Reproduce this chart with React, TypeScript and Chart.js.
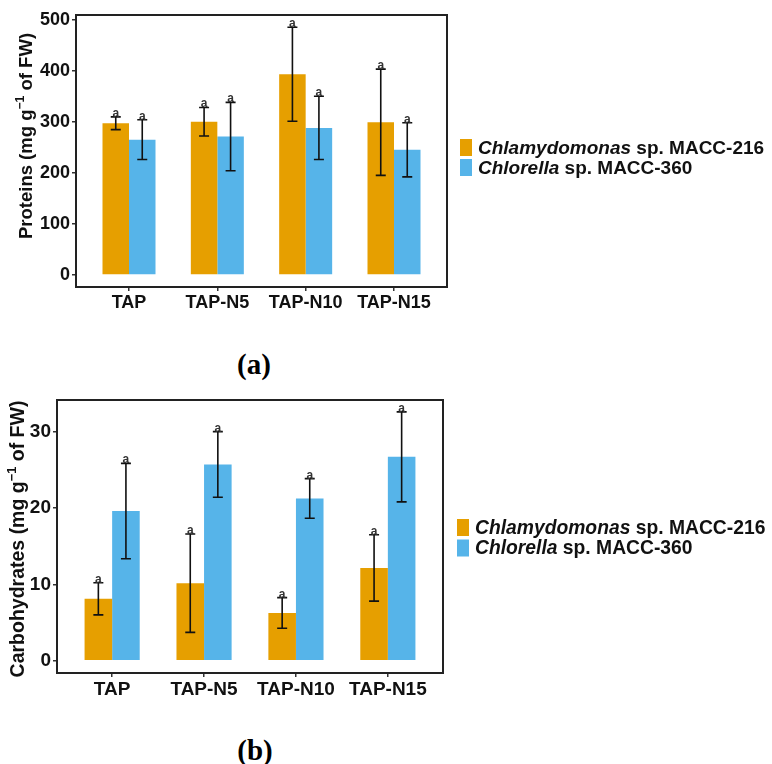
import React, { useEffect, useRef } from "react";
import { Chart, registerables } from "chart.js";

Chart.register(...registerables);

// ---- shared categories / series ----
const categories = ["TAP", "TAP-N5", "TAP-N10", "TAP-N15"];
const seriesNames = ["Chlamydomonas sp. MACC-216", "Chlorella sp. MACC-360"];
const seriesColors = ["#E69F00", "#56B4E9"];

// ---- proteins (mg g-1 of FW) ----
const proteinChlamy = [297, 300, 393, 299];
const proteinChlamySd = [12.5, 28, 92, 104];
const proteinChlorella = [265, 271, 288, 245];
const proteinChlorellaSd = [39, 67, 62, 53];
const proteinLetters = [
  ["a", "a", "a", "a"],
  ["a", "a", "a", "a"],
];
const proteinTicks = [0, 100, 200, 300, 400, 500];

// ---- carbohydrates (mg g-1 of FW) ----
const carbChlamy = [8.1, 10.15, 6.25, 12.15];
const carbChlamySd = [2.1, 6.45, 2.0, 4.35];
const carbChlorella = [19.6, 25.7, 21.25, 26.7];
const carbChlorellaSd = [6.25, 4.3, 2.6, 5.9];
const carbLetters = [
  ["a", "a", "a", "a"],
  ["a", "a", "a", "a"],
];
const carbTicks = [0, 10, 20, 30];

const SANS = '"Liberation Sans", Arial, sans-serif';
const INK = "#111111";

type PanelSpec = {
  width: number;
  height: number;
  plotLeft: number;
  plotTop: number;
  plotRight: number;
  plotBottom: number;
  yMin: number;
  yMax: number;
  yTicks: number[];
  values: number[][];
  errors: number[][];
  letters: string[][];
  titleMain: string;
  titleSup: string;
  titleTail: string;
  titleX: number;
  titleY: number;
  titleSize: number;
  tickSize: number;
  legendX: number;
  legendY: number;
  legendStep: number;
  legendSize: number;
};

function drawRotatedTitle(ctx: CanvasRenderingContext2D, s: PanelSpec) {
  const fMain = `bold ${s.titleSize}px ${SANS}`;
  const fSup = `bold ${s.titleSize * 0.66}px ${SANS}`;
  ctx.save();
  ctx.translate(s.titleX, s.titleY);
  ctx.rotate(-Math.PI / 2);
  ctx.fillStyle = INK;
  ctx.textBaseline = "alphabetic";
  ctx.textAlign = "left";
  ctx.font = fMain;
  const w1 = ctx.measureText(s.titleMain).width;
  const w3 = ctx.measureText(s.titleTail).width;
  ctx.font = fSup;
  const w2 = ctx.measureText(s.titleSup).width;
  let x = -(w1 + w2 + w3) / 2;
  ctx.font = fMain;
  ctx.fillText(s.titleMain, x, 0);
  x += w1;
  ctx.font = fSup;
  ctx.fillText(s.titleSup, x, -s.titleSize * 0.42);
  x += w2;
  ctx.font = fMain;
  ctx.fillText(s.titleTail, x, 0);
  ctx.restore();
}

function drawLegend(ctx: CanvasRenderingContext2D, s: PanelSpec) {
  ctx.save();
  ctx.textBaseline = "alphabetic";
  ctx.textAlign = "left";
  seriesNames.forEach((name, i) => {
    const top = s.legendY + i * s.legendStep;
    ctx.fillStyle = seriesColors[i];
    ctx.fillRect(s.legendX, top, 12, 17);
    const words = name.split(" ");
    const genus = words[0];
    const rest = " " + words.slice(1).join(" ");
    const base = top + 14.5;
    let x = s.legendX + 18;
    ctx.fillStyle = INK;
    ctx.font = `italic bold ${s.legendSize}px ${SANS}`;
    ctx.fillText(genus, x, base);
    x += ctx.measureText(genus).width;
    ctx.font = `bold ${s.legendSize}px ${SANS}`;
    ctx.fillText(rest, x, base);
  });
  ctx.restore();
}

function PanelChart({ spec, top }: { spec: PanelSpec; top: number }) {
  const ref = useRef<HTMLCanvasElement | null>(null);

  useEffect(() => {
    const canvas = ref.current;
    if (!canvas) return;
    const s = spec;

    const decorations = {
      id: "panelDecorations",
      afterDatasetsDraw(chart: any) {
        const ctx: CanvasRenderingContext2D = chart.ctx;
        const yScale = chart.scales.y;
        ctx.save();
        chart.data.datasets.forEach((_: any, di: number) => {
          const meta = chart.getDatasetMeta(di);
          meta.data.forEach((bar: any, i: number) => {
            const v = s.values[di][i];
            const e = s.errors[di][i];
            const x = bar.x;
            const yHi = yScale.getPixelForValue(v + e);
            const yLo = yScale.getPixelForValue(v - e);
            ctx.strokeStyle = INK;
            ctx.lineWidth = 1.6;
            ctx.beginPath();
            ctx.moveTo(x, yHi);
            ctx.lineTo(x, yLo);
            ctx.moveTo(x - 5, yHi);
            ctx.lineTo(x + 5, yHi);
            ctx.moveTo(x - 5, yLo);
            ctx.lineTo(x + 5, yLo);
            ctx.stroke();
            ctx.fillStyle = "#333333";
            ctx.font = `bold 12px ${SANS}`;
            ctx.textAlign = "center";
            ctx.textBaseline = "alphabetic";
            ctx.fillText(s.letters[di][i], x, yHi);
          });
        });
        ctx.restore();
      },
      afterDraw(chart: any) {
        const ctx: CanvasRenderingContext2D = chart.ctx;
        const a = chart.chartArea;
        ctx.save();
        ctx.strokeStyle = "#222222";
        ctx.lineWidth = 2;
        ctx.strokeRect(a.left, a.top, a.right - a.left, a.bottom - a.top);
        ctx.restore();
        drawRotatedTitle(ctx, s);
        drawLegend(ctx, s);
      },
    };

    const chart = new Chart(canvas, {
      type: "bar",
      data: {
        datasets: seriesNames.map((name, di) => ({
          label: name,
          data: categories.map((_, i) => ({ x: i + 1, y: s.values[di][i] })),
          backgroundColor: seriesColors[di],
          borderWidth: 0,
          categoryPercentage: 0.6,
          barPercentage: 1,
        })),
      },
      options: {
        animation: false,
        responsive: false,
        maintainAspectRatio: false,
        layout: {
          padding: {
            left: 0,
            top: s.plotTop,
            right: s.width - s.plotRight,
            bottom: 0,
          },
        },
        plugins: {
          legend: { display: false },
          tooltip: { enabled: false },
        },
        scales: {
          x: {
            type: "linear",
            offset: false,
            min: 0.4,
            max: categories.length + 0.6,
            afterBuildTicks: (scale: any) => {
              scale.ticks = categories.map((_, i) => ({ value: i + 1 }));
            },
            afterFit: (scale: any) => {
              scale.height = s.height - s.plotBottom;
            },
            ticks: {
              autoSkip: false,
              maxRotation: 0,
              padding: 1,
              color: INK,
              font: { family: SANS, weight: "bold", size: s.tickSize },
              callback: (v: any) => categories[Math.round(Number(v)) - 1] ?? "",
            },
            grid: {
              offset: false,
              drawOnChartArea: false,
              drawTicks: true,
              tickLength: 4,
              color: "#333333",
              lineWidth: 1.5,
            },
            border: { display: false },
          },
          y: {
            type: "linear",
            min: s.yMin,
            max: s.yMax,
            afterBuildTicks: (scale: any) => {
              scale.ticks = s.yTicks.map((t) => ({ value: t }));
            },
            afterFit: (scale: any) => {
              scale.width = s.plotLeft;
            },
            ticks: {
              padding: 2,
              color: INK,
              font: { family: SANS, weight: "bold", size: s.tickSize },
            },
            grid: {
              drawOnChartArea: false,
              drawTicks: true,
              tickLength: 4,
              color: "#333333",
              lineWidth: 1.5,
            },
            border: { display: false },
          },
        },
      } as any,
      plugins: [decorations],
    });

    return () => chart.destroy();
  }, [spec]);

  return (
    <canvas
      ref={ref}
      width={spec.width}
      height={spec.height}
      style={{
        position: "absolute",
        left: 0,
        top,
        width: spec.width,
        height: spec.height,
      }}
    />
  );
}

const proteinSpec: PanelSpec = {
  width: 772,
  height: 330,
  plotLeft: 76,
  plotTop: 15,
  plotRight: 447,
  plotBottom: 287,
  yMin: -23.5,
  yMax: 509,
  yTicks: proteinTicks,
  values: [proteinChlamy, proteinChlorella],
  errors: [proteinChlamySd, proteinChlorellaSd],
  letters: proteinLetters,
  titleMain: "Proteins (mg g",
  titleSup: "\u22121",
  titleTail: " of FW)",
  titleX: 32,
  titleY: 136,
  titleSize: 18.5,
  tickSize: 18,
  legendX: 460,
  legendY: 139,
  legendStep: 20,
  legendSize: 19,
};

const carbSpec: PanelSpec = {
  width: 772,
  height: 320,
  plotLeft: 57,
  plotTop: 15,
  plotRight: 443,
  plotBottom: 288,
  yMin: -1.62,
  yMax: 34.15,
  yTicks: carbTicks,
  values: [carbChlamy, carbChlorella],
  errors: [carbChlamySd, carbChlorellaSd],
  letters: carbLetters,
  titleMain: "Carbohydrates (mg g",
  titleSup: "\u22121",
  titleTail: " of FW)",
  titleX: 24,
  titleY: 154,
  titleSize: 19.5,
  tickSize: 19,
  legendX: 457,
  legendY: 134,
  legendStep: 20.5,
  legendSize: 19.3,
};

const captionStyle: React.CSSProperties = {
  position: "absolute",
  transform: "translate(-50%, -50%)",
  fontFamily: '"Liberation Serif", "Times New Roman", serif',
  fontWeight: "bold",
  fontSize: 29,
  color: "#000",
  whiteSpace: "nowrap",
  lineHeight: 1,
};

export default function App() {
  return (
    <div
      style={{
        position: "absolute",
        left: 0,
        top: 0,
        width: 772,
        height: 764,
        background: "#ffffff",
        overflow: "hidden",
      }}
    >
      <PanelChart spec={proteinSpec} top={0} />
      <div style={{ ...captionStyle, left: 254, top: 364 }}>(a)</div>
      <PanelChart spec={carbSpec} top={385} />
      <div style={{ ...captionStyle, left: 255, top: 750 }}>(b)</div>
    </div>
  );
}
